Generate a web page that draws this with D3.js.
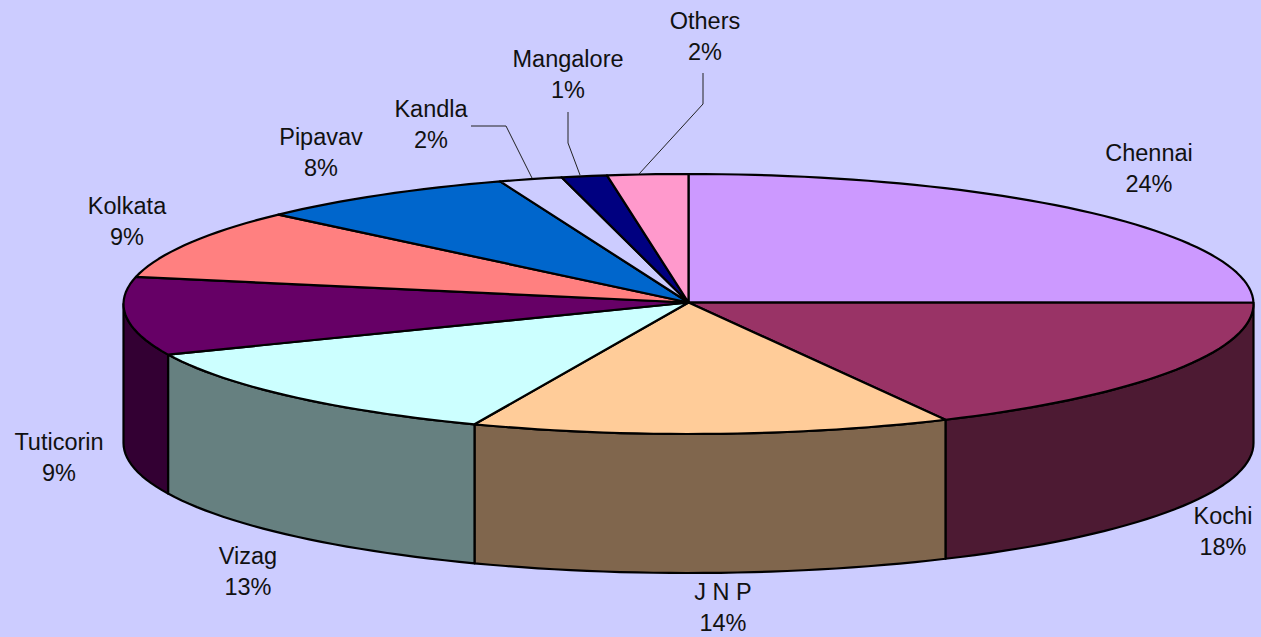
<!DOCTYPE html>
<html><head><meta charset="utf-8">
<script src="https://cdn.jsdelivr.net/npm/d3@7/dist/d3.min.js"></script>
<style>html,body{margin:0;padding:0;background:#CCCCFF;overflow:hidden}svg{display:block}
text{font-family:"Liberation Sans",Arial,sans-serif;font-size:23.5px;fill:#111;text-anchor:middle;dominant-baseline:central}</style>
</head><body><svg id="c" width="1261" height="637"></svg>
<script>
const categories = ["Chennai","Kochi","J N P","Vizag","Tuticorin","Kolkata","Pipavav","Kandla","Mangalore","Others"];
const sliceShares = [24.8,17.6,13.67,12.43,9.7,8.7,7.5,1.8,1.3,2.3];
const labelPercents = [24,18,14,13,9,9,8,2,1,2];
const topColors = ["#CC99FF","#993366","#FFCC99","#CCFFFF","#660066","#FF8080","#0066CC","#CCCCFF","#000080","#FF99CC"];
const sideColors = ["#664D80","#4D1A33","#80664D","#668080","#330033","#804040","#003366","#666680","#000040","#804D66"];
const labelCentres = [[1149,168],[1223,531],[723,607],[248,571],[59,457],[127,221],[321,152],[431,124],[568,74],[705,36]];
const leaderLines = [
  {from:"Kandla", pts:[[471,126],[506,126],[532,178]]},
  {from:"Mangalore", pts:[[568,112],[568,143],[580,175]]},
  {from:"Others", pts:[[703,73],[703,104],[639,174]]}
];

const cx=688.5, cy=304, rx=565, ry=130, depth=139;
const x=d3.scaleLinear().domain([-1,1]).range([cx-rx,cx+rx]);
const y=d3.scaleLinear().domain([-1,1]).range([cy-ry,cy+ry]);
const svg=d3.select("#c");
const pie=d3.pie().sort(null).startAngle(0).endAngle(2*Math.PI);
const arcs=pie(sliceShares);
const px=a=>x(Math.sin(a)), py=a=>y(-Math.cos(a));
const samples=(a0,a1)=>{const n=Math.max(2,Math.ceil((a1-a0)/0.03));return d3.range(n+1).map(i=>a0+(a1-a0)*i/n);};
const line=d3.line();

// walls: only the front half of the rim (90deg..270deg) is visible
const g=svg.append("g").attr("stroke","#000").attr("stroke-width",2.2).attr("stroke-linejoin","round");
arcs.forEach((d,i)=>{
  const a0=Math.max(d.startAngle,Math.PI/2), a1=Math.min(d.endAngle,3*Math.PI/2);
  if(a1<=a0) return;
  const s=samples(a0,a1);
  const top=s.map(a=>[px(a),py(a)]);
  const bot=s.slice().reverse().map(a=>[px(a),py(a)+depth]);
  g.append("path").attr("d",line(top.concat(bot))+"Z").attr("fill",sideColors[i]);
});
// top faces
arcs.forEach((d,i)=>{
  const s=samples(d.startAngle,d.endAngle);
  const pts=[[cx,cy-1.5]].concat(s.map(a=>[px(a),py(a)]));
  g.append("path").attr("d",line(pts)+"Z").attr("fill",topColors[i]);
});
// leaders
svg.append("g").attr("fill","none").attr("stroke","#222").attr("stroke-width",1)
  .selectAll("path").data(leaderLines).join("path").attr("d",d=>line(d.pts));
// labels
const lab=svg.append("g").selectAll("text").data(categories).join("text")
  .attr("transform",(d,i)=>`translate(${labelCentres[i][0]},${labelCentres[i][1]})`);
lab.append("tspan").attr("x",0).attr("y",-15.5).text(d=>d);
lab.append("tspan").attr("x",0).attr("y",15.5).text((d,i)=>labelPercents[i]+"%");
</script></body></html>
